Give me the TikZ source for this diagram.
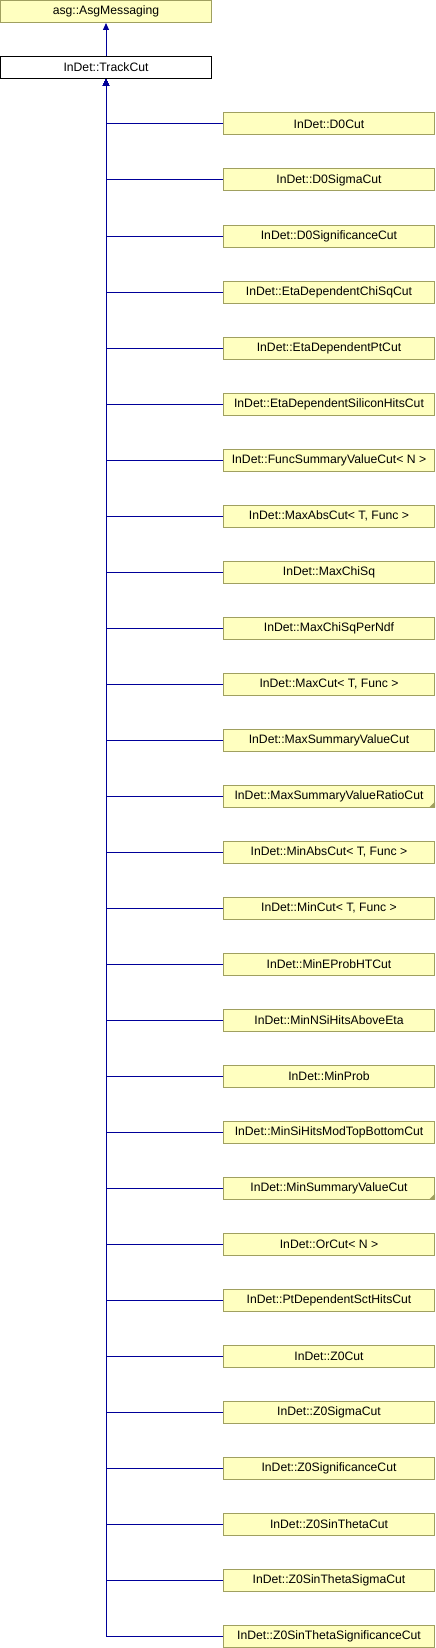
\documentclass[tikz,border=0pt]{standalone}
\usepackage{fontspec}
\setmainfont{Liberation Sans}
\usetikzlibrary{arrows.meta}
\definecolor{boxfill}{HTML}{FFFFC0}
\definecolor{boxline}{HTML}{A0A060}
\definecolor{edgeblue}{HTML}{000099}
\tikzset{
  cls/.style={draw=boxline, fill=boxfill, line width=1pt, minimum width=211pt,
    minimum height=22pt, inner sep=0pt, font=\fontsize{12.2}{14}\selectfont},
  cur/.style={cls, draw=black, fill=white},
  fold/.style={fill=boxline}
}
\begin{document}
\begin{tikzpicture}[x=1pt,y=-1pt]
      \useasboundingbox (0,0) rectangle (436,1648);
      \draw
        (106,11.5) node[cls] (asg){asg::AsgMessaging}
        (106,67.5) node[cur] (track){InDet::TrackCut};
      \draw
        (329,124) node[cls] (0){InDet::D0Cut}
        (329,180) node[cls] (1){InDet::D0SigmaCut}
        (329,236) node[cls] (2){InDet::D0SignificanceCut}
        (329,292) node[cls] (3){InDet::EtaDependentChiSqCut}
        (329,348) node[cls] (4){InDet::EtaDependentPtCut}
        (329,404) node[cls] (5){InDet::EtaDependentSiliconHitsCut}
        (329,460) node[cls] (6){InDet::FuncSummaryValueCut< N >}
        (329,516) node[cls] (7){InDet::MaxAbsCut< T, Func >}
        (329,572) node[cls] (8){InDet::MaxChiSq}
        (329,628) node[cls] (9){InDet::MaxChiSqPerNdf}
        (329,684) node[cls] (10){InDet::MaxCut< T, Func >}
        (329,740) node[cls] (11){InDet::MaxSummaryValueCut}
        (329,796) node[cls] (12){InDet::MaxSummaryValueRatioCut}
        (329,852) node[cls] (13){InDet::MinAbsCut< T, Func >}
        (329,908) node[cls] (14){InDet::MinCut< T, Func >}
        (329,964) node[cls] (15){InDet::MinEProbHTCut}
        (329,1020) node[cls] (16){InDet::MinNSiHitsAboveEta}
        (329,1076) node[cls] (17){InDet::MinProb}
        (329,1132) node[cls] (18){InDet::MinSiHitsModTopBottomCut}
        (329,1188) node[cls] (19){InDet::MinSummaryValueCut}
        (329,1244) node[cls] (20){InDet::OrCut< N >}
        (329,1300) node[cls] (21){InDet::PtDependentSctHitsCut}
        (329,1356) node[cls] (22){InDet::Z0Cut}
        (329,1412) node[cls] (23){InDet::Z0SigmaCut}
        (329,1468) node[cls] (24){InDet::Z0SignificanceCut}
        (329,1524) node[cls] (25){InDet::Z0SinThetaCut}
        (329,1580) node[cls] (26){InDet::Z0SinThetaSigmaCut}
        (329,1636) node[cls] (27){InDet::Z0SinThetaSignificanceCut};
      % folded corners
      \fill[fold] (12.south east) -- ++(-6,0) -- ++(6,-6) -- cycle;
      \fill[fold] (19.south east) -- ++(-6,0) -- ++(6,-6) -- cycle;
      \begin{scope}[edgeblue, line width=1pt, -{Triangle[length=7pt,width=6pt]}]
        \draw (track) to (asg);
        \draw (0.west) -| (track);
        \draw (1.west) -| (track);
        \draw (2.west) -| (track);
        \draw (3.west) -| (track);
        \draw (4.west) -| (track);
        \draw (5.west) -| (track);
        \draw (6.west) -| (track);
        \draw (7.west) -| (track);
        \draw (8.west) -| (track);
        \draw (9.west) -| (track);
        \draw (10.west) -| (track);
        \draw (11.west) -| (track);
        \draw (12.west) -| (track);
        \draw (13.west) -| (track);
        \draw (14.west) -| (track);
        \draw (15.west) -| (track);
        \draw (16.west) -| (track);
        \draw (17.west) -| (track);
        \draw (18.west) -| (track);
        \draw (19.west) -| (track);
        \draw (20.west) -| (track);
        \draw (21.west) -| (track);
        \draw (22.west) -| (track);
        \draw (23.west) -| (track);
        \draw (24.west) -| (track);
        \draw (25.west) -| (track);
        \draw (26.west) -| (track);
        \draw (27.west) -| (track);
      \end{scope}
    \end{tikzpicture}
\end{document}
